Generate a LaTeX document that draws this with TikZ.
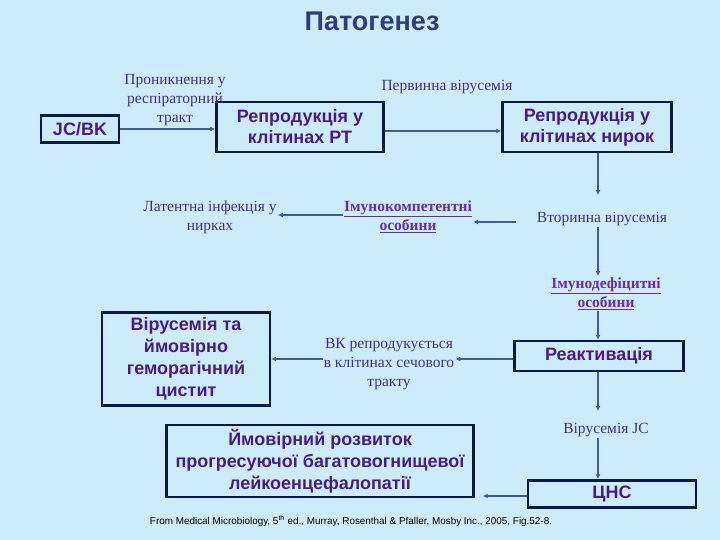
\documentclass[tikz,border=0pt]{standalone}
\usepackage{fontspec}
\setmainfont{Liberation Serif}
\setsansfont{Liberation Sans}
\usetikzlibrary{arrows.meta,positioning}
\definecolor{bgblue}{HTML}{CCEBFB}
\definecolor{boxline}{HTML}{0B1A45}
\definecolor{boxtext}{HTML}{4A1C80}
\definecolor{labeltext}{HTML}{45307E}
\definecolor{linktext}{HTML}{6A2C9E}
\definecolor{titletext}{HTML}{2F3D7A}
\definecolor{arrowline}{HTML}{3E5C8C}
\tikzset{
  >={Latex[length=5pt,width=5pt]},
  patho/.style={x=1pt, y=-1pt},
  stage/.style={
    rectangle, draw=boxline, line width=2.4pt, fill=bgblue,
    inner sep=0pt, align=center, text=boxtext,
    font=\sffamily\bfseries\fontsize{18}{21}\selectfont
  },
  note/.style={
    align=center, text=labeltext, inner sep=1pt,
    font=\fontsize{15.5}{19}\selectfont
  },
  group/.style={
    align=center, text=linktext, inner sep=1pt,
    font=\bfseries\fontsize{15.5}{19}\selectfont
  },
  arrow/.style={->, draw=arrowline, line width=1.4pt, color=arrowline}
}

\begin{document}
\begin{tikzpicture}[patho]
\fill[bgblue] (0,0) rectangle (720,540);
\useasboundingbox (0,0) rectangle (720,540);

% 1 : Titre
\node[text=titletext, font=\sffamily\bfseries\fontsize{27}{30}\selectfont] (title) at (372,21) {Патогенез};

% 2 : Ligne du haut
\node[stage, minimum width=78pt, minimum height=27pt] (jcbk) at (80,129) {JC/BK};
\node[stage, minimum width=167pt, minimum height=50pt] (resp) at (300,127) {Репродукція у\\клітинах РТ};
\node[stage, minimum width=169pt, minimum height=50pt] (kidney) at (587,127) {Репродукція у\\клітинах нирок};
\node[note] (entry) at (175,100) {Проникнення у\\респіраторний\\тракт};
\node[note] (primary) at (447,87) {Первинна вірусемія};
\draw[arrow] (jcbk.east) -- (resp.west |- jcbk.east);
\draw[arrow] ([yshift=-4pt]resp.east) -- ([yshift=-4pt]kidney.west);

% 3 : Vironémie secondaire
\node[note] (secondary) at (602,219) {Вторинна вірусемія};
\node[group] (immcomp) at (408,217) {\underline{Імунокомпетентні}\\\underline{особини}};
\node[note] (latent) at (210,217) {Латентна інфекція у\\нирках};
\draw[arrow] (kidney.south -| 598,0) -- (598,195);
\draw[arrow] (516,222) -- (immcomp.east |- 0,222);
\draw[arrow] (immcomp.west |- 0,215) -- (latent.east |- 0,215);

% 4 : Réactivation
\node[group] (immdef) at (606,294) {\underline{Імунодефіцитні}\\\underline{особини}};
\node[stage, minimum width=169pt, minimum height=30pt] (react) at (599,356) {Реактивація};
\node[note] (bkurine) at (389,364) {ВК репродукується\\в клітинах сечового\\тракту};
\node[stage, minimum width=168pt, minimum height=93pt,
      font=\sffamily\bfseries\fontsize{18}{22}\selectfont] (cystitis) at (186,359) {Вірусемія та\\ймовірно\\геморагічний\\цистит};
\draw[arrow] (secondary.south -| 598,0) -- (598,276);
\draw[arrow] (immdef.south -| 598,0) -- (react.north -| 598,0);
\draw[arrow] (react.west |- 0,359) -- (bkurine.east |- 0,359);
\draw[arrow] (bkurine.west |- 0,359) -- (cystitis.east |- 0,359);

% 5 : SNC
\node[note] (jcvir) at (606,430) {Вірусемія JC};
\node[stage, minimum width=168pt, minimum height=27pt] (cns) at (612,494) {ЦНС};
\node[stage, minimum width=307pt, minimum height=72pt,
      font=\sffamily\bfseries\fontsize{18}{22}\selectfont] (pml) at (320,461) {Ймовірний розвиток\\прогресуючої багатовогнищевої\\лейкоенцефалопатії};
\draw[arrow] (react.south -| 598,0) -- (598,411);
\draw[arrow] (jcvir.south -| 598,0) -- (cns.north -| 598,0);
\draw[arrow] ([yshift=-2pt]cns.west) -- ([xshift=8pt, yshift=-2pt]pml.east |- cns.west);

% 6 : Source
\node[font=\sffamily\fontsize{9.9}{11}\selectfont, text=black] (source) at (351,521) {From Medical Microbiology, 5\textsuperscript{th} ed., Murray, Rosenthal \& Pfaller, Mosby Inc., 2005, Fig.52-8.};
\end{tikzpicture}
\end{document}
